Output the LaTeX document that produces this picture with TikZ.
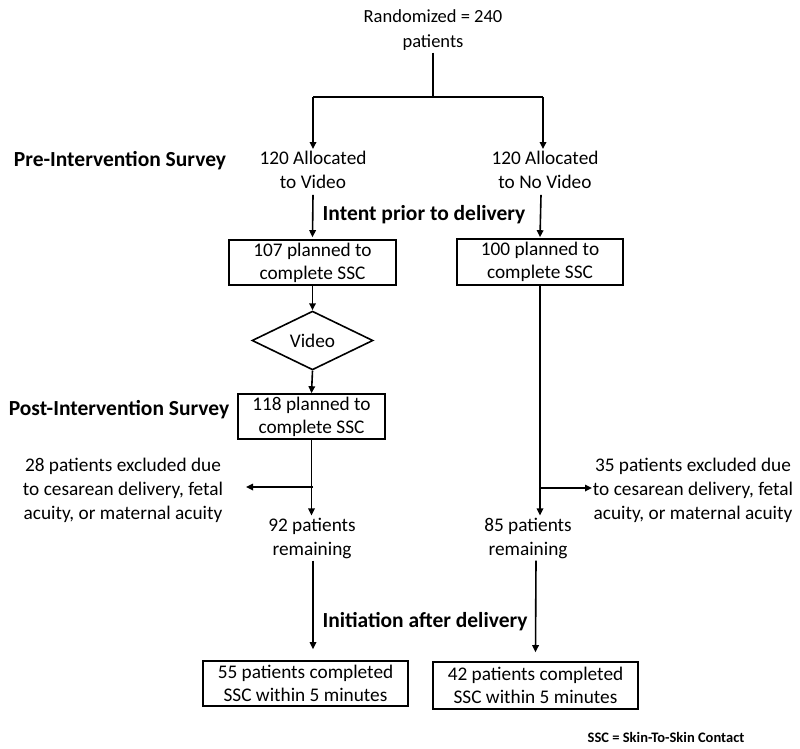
\documentclass[tikz,border=0pt]{standalone}
\usepackage{fontspec}
\setmainfont{Carlito}
\usetikzlibrary{arrows.meta,shapes.geometric}
\begin{document}
\begin{tikzpicture}[x=1pt,y=-1pt,
  txt/.style={align=center,inner sep=2pt,font=\fontsize{19.3}{24}\selectfont},
  lbl/.style={inner sep=0pt,font=\fontsize{21.5}{26}\selectfont\bfseries},
  boxn/.style={draw,line width=1.6pt,align=center,inner sep=0pt,font=\fontsize{19.3}{23}\selectfont},
  ln/.style={line width=1.6pt},
  arr/.style={line width=1.6pt,-{Triangle[length=7pt,width=6.5pt]}}]
\useasboundingbox (0,0) rectangle (800,749);
% texts
\node[txt,font=\fontsize{18.5}{25}\selectfont] (rand) at (433,30) {Randomized = 240\\patients};
\node[txt] (a1) at (313,170) {120 Allocated\\to Video};
\node[txt] (a2) at (545,170) {120 Allocated\\to No Video};
\node[lbl] (pre) at (120,161) {Pre-Intervention Survey};
\node[lbl] (intent) at (424,215) {Intent prior to delivery};
\node[lbl] (post) at (119,410) {Post-Intervention Survey};
\node[lbl] (init) at (425,622) {Initiation after delivery};
\node[boxn,minimum width=167pt,minimum height=45pt] (b1) at (312.5,262.5) {107 planned to\\complete SSC};
\node[boxn,minimum width=166pt,minimum height=46pt] (b2) at (540,262) {100 planned to\\complete SSC};
\node[draw,diamond,line width=1.6pt,inner sep=0pt,minimum width=121pt,minimum height=55pt,font=\fontsize{19.3}{24}\selectfont] (vid) at (312.5,340.5) {Video};
\node[boxn,minimum width=147pt,minimum height=45pt] (b3) at (311.5,416.5) {118 planned to\\complete SSC};
\node[txt] (ex1) at (123,490) {28 patients excluded due\\to cesarean delivery, fetal\\acuity, or maternal acuity};
\node[txt] (ex2) at (693,490) {35 patients excluded due\\to cesarean delivery, fetal\\acuity, or maternal acuity};
\node[txt] (r1) at (312,538) {92 patients\\remaining};
\node[txt] (r2) at (528,538) {85 patients\\remaining};
\node[boxn,minimum width=205pt,minimum height=45pt] (f1) at (305.5,683.5) {55 patients completed\\SSC within 5 minutes};
\node[boxn,minimum width=205pt,minimum height=47pt] (f2) at (535.5,685.5) {42 patients completed\\SSC within 5 minutes};
\node[inner sep=0pt,font=\fontsize{14.5}{17}\selectfont\bfseries] (note) at (666,737) {SSC = Skin-To-Skin Contact};
% junction coordinates
\coordinate (j) at (433,97);
\coordinate (jl) at (313,97);
\coordinate (jr) at (543,97);
\coordinate (k1) at (313,487);
\coordinate (k1t) at (246,487);
\coordinate (k2) at (540,488);
\coordinate (k2t) at (592,488);
% connectors
\draw[ln] (rand.south) -- (j);
\draw[ln] (jl) -- (jr);
\draw[arr] (jl) -- (jl |- a1.north);
\draw[arr] (jr) -- (jr |- a2.north);
\draw[arr] ([yshift=-4pt]a1.south) -- ([yshift=2pt]b1.north);
\draw[arr] ([xshift=-4pt,yshift=-4pt]a2.south) -- ([yshift=1pt]b2.north);
\draw[arr] (b1.south) -- (vid.north);
\draw[arr] (vid.south) -- (b3.north);
\draw[arr] (b3.south) -- (b3.south |- r1.north);
\draw[arr] (k1) -- (k1t);
\draw[arr] (b2.south) -- (b2.south |- r1.north);
\draw[arr] (k2) -- (k2t);
\draw[arr] ([xshift=1pt]r1.south) -- ([xshift=7.5pt,yshift=11pt]f1.north);
\draw[arr] ([xshift=8pt]r2.south) -- ([yshift=9pt]f2.north);
\end{tikzpicture}
\end{document}
